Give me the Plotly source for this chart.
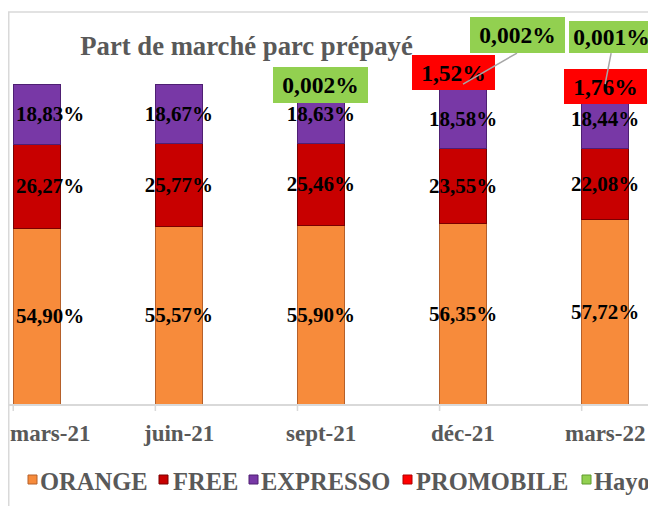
import plotly.graph_objects as go

# ---------------- data ----------------
categories = ["mars-21", "juin-21", "sept-21", "déc-21", "mars-22"]
orange = [54.90, 55.57, 55.90, 56.35, 57.72]
free = [26.27, 25.77, 25.46, 23.55, 22.08]
expresso = [18.83, 18.67, 18.63, 18.58, 18.44]
promobile = [None, None, None, 1.52, 1.76]
hayo = [None, None, 0.002, 0.002, 0.001]

series_names = ["ORANGE", "FREE", "EXPRESSO", "PROMOBILE", "Hayo"]
series_values = [orange, free, expresso, promobile, hayo]
label_decimals = [2, 2, 2, 2, 3]
inside_label = [True, True, True, False, False]

title_text = "Part de marché parc prépayé"

# ---------------- styles ----------------
fill_colors = ["#F78B3B", "#C80000", "#7838A6", "#FF0000", "#92D050"]
edge_colors = ["#B5602A", "#7A0000", "#4E1F73", "#B00000", "#5E9A2C"]
SERIF = "Liberation Serif, Times New Roman, serif"
GRAY_TXT = "#595959"
LINE_GRAY = "#D9D9D9"

# the page body has an 8px margin: the figure starts at page (8, 8)
OFF = 8
W, H = 656 - OFF, 506 - OFF
ML, MR, MT, MB = 0, 0, 84 - OFF, 102
PW, PH = W - ML - MR, H - MT - MB
BARGAP = 0.67
# labels of the first (partly cropped) bar are nudged right to stay inside the chart
LABEL_XSHIFT = [13.5, 0, 0, 0, 0]
LABEL_FONT = dict(family=SERIF, size=21, color="black", weight="bold")
TICK_FONT = dict(family=SERIF, size=23, color=GRAY_TXT, weight="bold")


def paper_x(px):  # page pixel -> paper
    return (px - OFF - ML) / PW


def paper_y(py):
    return (H - MB - (py - OFF)) / PH


def fmt(v, d):
    return f"{v:.{d}f}".replace(".", ",") + "%"


fig = go.Figure()
annotations = []
base = [0.0] * len(categories)
for name, vals, fc, ec, dec, inside in zip(series_names, series_values, fill_colors,
                                            edge_colors, label_decimals, inside_label):
    texts = []
    for i, v in enumerate(vals):
        if v is None or not inside:
            texts.append("")
        elif LABEL_XSHIFT[i]:
            texts.append("")
            annotations.append(dict(
                x=categories[i], y=base[i] + v / 2, xref="x", yref="y",
                text=fmt(v, dec), font=LABEL_FONT, showarrow=False,
                xanchor="center", yanchor="middle", xshift=LABEL_XSHIFT[i]))
        else:
            texts.append(fmt(v, dec))
    fig.add_trace(go.Bar(
        x=categories, y=vals, name=name,
        marker=dict(color=fc, line=dict(color=ec, width=1)),
        text=texts,
        textposition="inside" if inside else "none",
        insidetextanchor="middle", textangle=0, constraintext="none",
        textfont=LABEL_FONT,
        cliponaxis=False, showlegend=False, hoverinfo="skip",
    ))
    base = [b + (v or 0) for b, v in zip(base, vals)]

totals = base
y_top = max(totals)

# category labels under the axis (first one nudged right like the data labels)
for i, c in enumerate(categories):
    annotations.append(dict(
        x=c, y=paper_y(433), xref="x", yref="paper", text=c, font=TICK_FONT,
        showarrow=False, xanchor="center", yanchor="middle", xshift=LABEL_XSHIFT[i]))

# callout labels for the small series: (series idx, category idx, w, h, xshift, yshift, ax, ay)
callouts = [
    (4, 2, 95, 36, 0, -1, None, None),
    (3, 3, 83, 35, -10, 11.5, None, None),
    (4, 3, 95, 36, 0, 0, 54, -31),
    (3, 4, 83, 35, 0, -2.5, None, None),
    (4, 4, 85, 32, 0, 0, 6, -31),
]
for si, ci, bw, bh, xs, ys, ax, ay in callouts:
    a = dict(
        x=categories[ci], y=totals[ci], xref="x", yref="y",
        text=fmt(series_values[si][ci], label_decimals[si]),
        font=dict(family=SERIF, size=23.5, color="black", weight="bold"),
        bgcolor=fill_colors[si], width=bw, height=bh, borderpad=0, borderwidth=0,
        align="center", valign="middle", xshift=xs, yshift=ys,
    )
    if ax is None:
        a.update(showarrow=False, xanchor="center", yanchor="middle")
    else:
        a.update(showarrow=True, ax=ax, ay=ay, axref="pixel", ayref="pixel",
                 arrowhead=0, arrowwidth=1.5, arrowcolor="#A6A6A6",
                 standoff=0, startstandoff=0, xanchor="center", yanchor="bottom")
    annotations.append(a)

# legend (text + swatches)
legend_square_x = [28, 159, 249, 403, 582]
legend_text_x = [39, 172, 260, 415, 593]
shapes = []
for name, fc, ec, sx, tx in zip(series_names, fill_colors, edge_colors,
                                legend_square_x, legend_text_x):
    annotations.append(dict(
        x=paper_x(tx), y=paper_y(481), xref="paper", yref="paper",
        xanchor="left", yanchor="middle", showarrow=False, borderpad=0,
        text=name, font=dict(family=SERIF, size=24.5, color=GRAY_TXT, weight="bold"),
    ))
    shapes.append(dict(
        type="rect", xref="paper", yref="paper",
        x0=paper_x(sx), x1=paper_x(sx + 9), y0=paper_y(484), y1=paper_y(475),
        fillcolor=fc, line=dict(color=ec, width=1), layer="above",
    ))

# category tick marks at bar left edges
for i in range(len(categories)):
    xe = i - (1 - BARGAP) / 2
    shapes.append(dict(type="line", xref="x", yref="paper", x0=xe, x1=xe,
                       y0=0, y1=-7 / PH, line=dict(color=LINE_GRAY, width=1.5)))

# chart-area border
shapes.append(dict(type="rect", xref="paper", yref="paper", x0=paper_x(8.75), x1=paper_x(720),
                   y0=paper_y(620), y1=paper_y(12), fillcolor="rgba(0,0,0,0)",
                   line=dict(color=LINE_GRAY, width=1.5), layer="above"))

fig.update_layout(
    template="none",
    width=W, height=H,
    margin=dict(l=ML, r=MR, t=MT, b=MB, pad=0, autoexpand=False),
    paper_bgcolor="white", plot_bgcolor="white",
    barmode="stack", bargap=BARGAP,
    showlegend=False,
    title=dict(text=title_text, x=paper_x(246.5), xref="paper", xanchor="center",
               y=1 - (46 - OFF) / H, yref="container", yanchor="middle",
               font=dict(family=SERIF, size=26.7, color=GRAY_TXT, weight="bold")),
    xaxis=dict(type="category", range=[-0.202, 4.358], showgrid=False, zeroline=False,
               showline=True, linecolor=LINE_GRAY, linewidth=1.5, ticks="",
               showticklabels=False, automargin=False),
    yaxis=dict(range=[0, y_top], showgrid=False, zeroline=False, showline=False,
               showticklabels=False, ticks="", automargin=False),
    annotations=annotations,
    shapes=shapes,
)

fig.write_html("out.html")
